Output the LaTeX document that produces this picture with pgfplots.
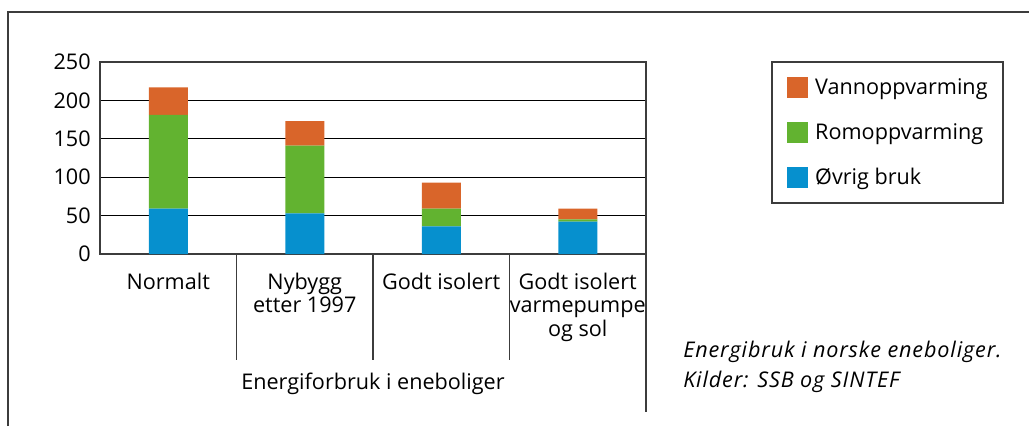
\documentclass[border=0pt]{standalone}
\usepackage{fontspec}
\setmainfont{Open Sans}
\usepackage{pgfplots}
\pgfplotsset{compat=1.18}
\definecolor{cOr}{RGB}{217,101,42}
\definecolor{cGr}{RGB}{98,179,48}
\definecolor{cBl}{RGB}{6,144,206}
\definecolor{cFr}{RGB}{60,60,60}
\pgfplotsset{sw legend/.style={legend image code/.code={\fill[##1] (0pt,-7.875pt) rectangle (15.75pt,7.875pt);}}}
\begin{document}
\begin{tikzpicture}[font=\fontsize{16.2}{17.6}\selectfont]
\useasboundingbox (0,0) rectangle (771.75pt,319.5pt);
\draw[cFr, line width=1.5pt] (6pt,0) -- (6pt,310.5pt) -- (771.75pt,310.5pt);
\draw[cFr, line width=0.9pt] (579pt,273pt) rectangle (752.25pt,167.25pt);
\begin{axis}[
  at={(75pt,129pt)}, anchor=south west, scale only axis,
  width=409.5pt, height=144pt,
  xmin=-0.5, xmax=3.5, ymin=0, ymax=250,
  ybar stacked, bar width=29.25pt,
  xtick={0,1,2,3},
  xticklabels={Normalt,{Nybygg\\etter 1997},{Godt isolert},{Godt isolert\\varmepumpe\\og sol}},
  x tick label style={align=center, anchor=north, yshift=-10.5pt},
  ytick={0,50,...,250},
  y tick label style={xshift=-3.5pt},
  major tick length=0pt,
  ymajorgrids, grid style={black, line width=0.75pt},
  axis line style={cFr, line width=0.9pt},
  clip=false,
  /pgf/number format/assume math mode=true,
  xlabel={Energiforbruk i eneboliger},
  xlabel style={at={(axis description cs:0.5,0)}, anchor=center, yshift=-97.5pt},
  reverse legend,
  legend cell align=left,
  legend style={draw=none, fill=none, inner sep=0pt, nodes={inner sep=0pt},
    column sep=5.25pt, row sep=18pt,
    at={(axis description cs:1.2582,0.9245)}, anchor=north west},
]
\addplot[fill=cBl, draw=none, sw legend] coordinates {(0,59) (1,53) (2,36) (3,42)};
\addplot[fill=cGr, draw=none, sw legend] coordinates {(0,122) (1,88) (2,23) (3,3)};
\addplot[fill=cOr, draw=none, sw legend] coordinates {(0,36) (1,32) (2,34) (3,14)};
\legend{Øvrig bruk, Romoppvarming, Vannoppvarming}
\draw[cFr, line width=0.9pt] (axis cs:0.5,0) -- ++(0pt,-79.5pt);
\draw[cFr, line width=0.9pt] (axis cs:1.5,0) -- ++(0pt,-79.5pt);
\draw[cFr, line width=0.9pt] (axis cs:2.5,0) -- ++(0pt,-79.5pt);
\draw[cFr, line width=0.9pt] (axis cs:3.5,0) -- ++(0pt,-118.5pt);
\end{axis}
\node[anchor=west, font=\fontsize{16.2}{17.6}\selectfont\itshape\addfontfeatures{LetterSpace=4}, inner sep=0pt] at (512.25pt,55.5pt) {Energibruk i norske eneboliger.};
\node[anchor=west, font=\fontsize{16.2}{17.6}\selectfont\itshape\addfontfeatures{LetterSpace=4}, inner sep=0pt] at (512.25pt,33pt) {Kilder: SSB og SINTEF};
\end{tikzpicture}
\end{document}
